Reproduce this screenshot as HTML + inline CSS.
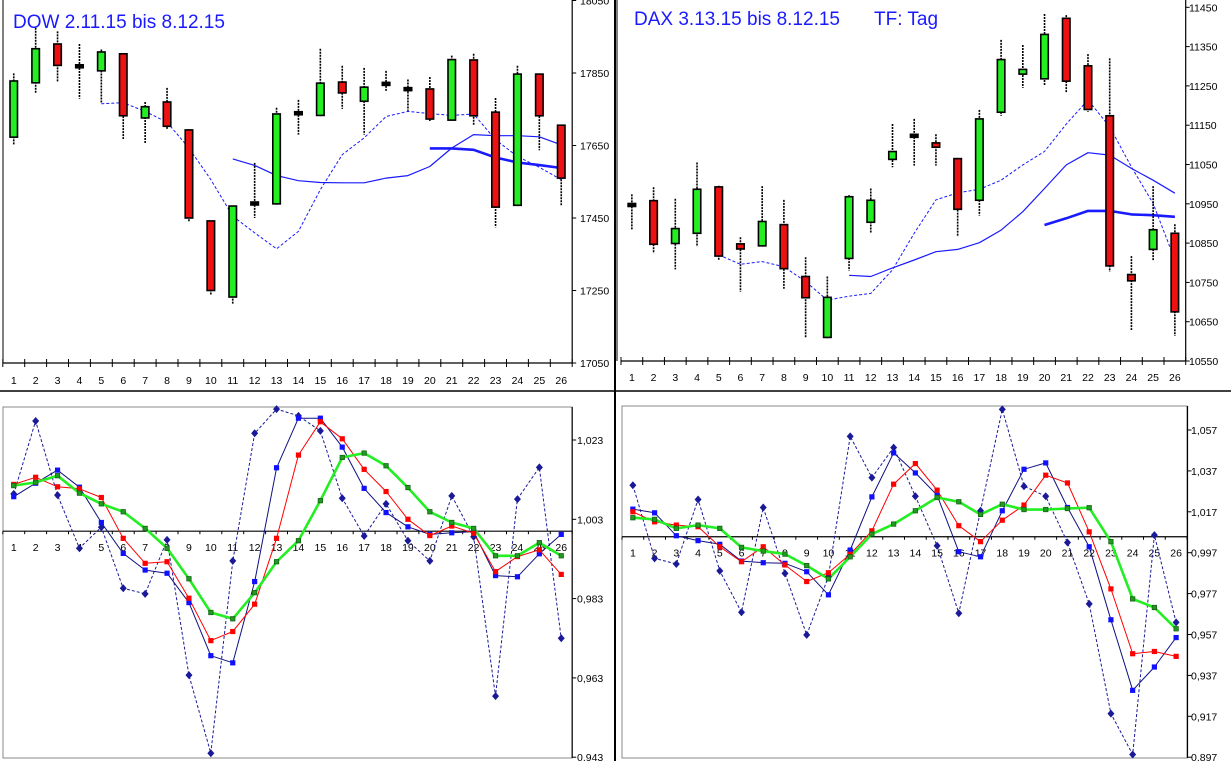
<!DOCTYPE html>
<html><head><meta charset="utf-8"><style>
html,body{margin:0;padding:0;background:#fff;}
svg{display:block;font-family:"Liberation Sans",Arial,sans-serif;}
</style></head><body>
<svg id="root" width="1231" height="761" viewBox="0 0 1231 761" xmlns="http://www.w3.org/2000/svg">
<rect x="0" y="0" width="1231" height="761" fill="#fff"/>
<line x1="3" y1="0" x2="3" y2="363" stroke="#000" stroke-width="1"/>
<line x1="617" y1="0" x2="617" y2="361" stroke="#000" stroke-width="1"/>
<line x1="615" y1="0" x2="615" y2="761" stroke="#000" stroke-width="2"/>
<line x1="0" y1="391" x2="1231" y2="391" stroke="#000" stroke-width="1.5"/>
<rect x="3" y="407" width="569" height="351" fill="none" stroke="#888" stroke-width="1"/>
<rect x="622" y="406" width="565" height="352" fill="none" stroke="#888" stroke-width="1"/>
<text x="13" y="28" font-size="19" fill="#1a1aff">DOW 2.11.15 bis 8.12.15</text>
<text x="634" y="25" font-size="19" fill="#1a1aff">DAX 3.13.15 bis 8.12.15</text>
<text x="874" y="25" font-size="19" fill="#1a1aff">TF: Tag</text>
<g id="g"></g>
</svg>
<script>
const cats = [1,2,3,4,5,6,7,8,9,10,11,12,13,14,15,16,17,18,19,20,21,22,23,24,25,26];
// DOW candles
const dowOpen  = [17673,17823,17930,17869,17856,17903,17726,17770,17693,17442,17232,17490,17489,17739,17733,17825,17772,17822,17807,17806,17720,17886,17742,17485,17847,17706];
const dowHigh  = [17849,17975,17965,17930,17915,17905,17770,17809,17695,17443,17484,17602,17754,17776,17917,17870,17864,17856,17832,17839,17898,17903,17781,17870,17847,17706];
const dowLow   = [17653,17793,17827,17779,17766,17668,17657,17696,17441,17238,17211,17450,17487,17680,17731,17751,17680,17800,17746,17717,17717,17705,17424,17482,17637,17485];
const dowClose = [17828,17917,17871,17868,17908,17732,17757,17703,17450,17250,17483,17490,17737,17739,17822,17795,17811,17818,17804,17723,17887,17732,17480,17847,17732,17560];
const dowMaFast = [null,null,null,null,17765,17768,17744,17714,17643,17556,17455,17409,17365,17413,17528,17625,17671,17730,17744,17738,17733,17737,17666,17620,17590,17556];
const dowMaSlow = [null,null,null,null,null,null,null,null,null,null,17613,17595,17567,17553,17548,17547,17547,17560,17567,17592,17643,17680,17677,17677,17674,17652];
const dowMaLong = [null,null,null,null,null,null,null,null,null,null,null,null,null,null,null,null,null,null,null,17642,17642,17638,17617,17603,17596,17588];
const dowTicks = [17050,17250,17450,17650,17850,18050];
// DAX candles
const daxOpen  = [10947,10958,10849,10875,10993,10848,10843,10897,10765,10610,10811,10903,11063,11123,11105,11065,10959,11183,11280,11268,11422,11301,11174,10770,10834,10875];
const daxHigh  = [10974,10992,10963,11055,10996,10865,10995,10960,10814,10765,10972,10989,11153,11166,11127,11065,11189,11367,11354,11433,11430,11331,11320,10817,10995,10898];
const daxLow   = [10883,10824,10783,10841,10807,10726,10841,10734,10608,10608,10780,10876,11043,11047,11047,10866,10920,11174,11245,11250,11233,11184,10777,10629,10805,10614];
const daxClose = [10947,10847,10887,10987,10817,10835,10905,10785,10711,10712,10968,10959,11083,11123,11094,10936,11166,11317,11292,11381,11262,11190,10792,10754,10884,10675];
const daxMaFast = [null,null,null,null,10820,10796,10803,10790,10752,10705,10715,10722,10782,10875,10960,10978,10987,11010,11049,11083,11153,11214,11146,11044,10951,10807];
const daxMaSlow = [null,null,null,null,null,null,null,null,null,null,10768,10765,10787,10807,10828,10834,10851,10883,10930,10989,11049,11080,11074,11040,11010,10977];
const daxMaLong = [null,null,null,null,null,null,null,null,null,null,null,null,null,null,null,null,null,null,null,10896,10913,10932,10932,10923,10921,10917];
const daxTicks = [10550,10650,10750,10850,10950,11050,11150,11250,11350,11450];
// DOW ratio lines
const blDaily = [1.0094,1.0278,1.0091,0.9957,1.0010,0.9856,0.9842,0.9978,0.9637,0.9440,0.9925,1.0247,1.0308,1.0291,1.0253,1.0083,0.9988,1.0069,0.9976,0.9925,1.0089,0.9986,0.9584,1.0081,1.0161,0.9730];
const blFast  = [1.0087,1.0121,1.0154,1.0111,1.0022,0.9944,0.9902,0.9894,0.9820,0.9686,0.9668,0.9873,1.0160,1.0285,1.0285,1.0212,1.0108,1.0047,1.0011,0.9992,0.9996,0.9999,0.9888,0.9885,0.9943,0.9992];
const blMid   = [1.0118,1.0136,1.0112,1.0107,1.0085,0.9982,0.9919,0.9923,0.9831,0.9724,0.9747,0.9816,0.9982,1.0192,1.0276,1.0233,1.0156,1.0100,1.0030,0.9989,1.0013,0.9995,0.9898,0.9936,0.9953,0.9891];
const blSlow  = [1.0115,1.0123,1.0140,1.0096,1.0069,1.0049,1.0007,0.9957,0.9880,0.9795,0.9779,0.9845,0.9923,0.9976,1.0077,1.0186,1.0197,1.0165,1.0110,1.0049,1.0022,1.0007,0.9938,0.9938,0.9971,0.9938];
const blTicks = [0.943,0.963,0.983,1.003,1.023];
const blCross = 1.0;
// DAX ratio lines
const brDaily = [1.0300,0.9942,0.9915,1.0230,0.9881,0.9679,1.0191,0.9869,0.9568,0.9853,1.0539,1.0337,1.0484,1.0246,1.0004,0.9674,1.0175,1.0671,1.0295,1.0246,1.0020,0.9720,0.9183,0.8983,1.0056,0.9629];
const brFast  = [1.0183,1.0165,1.0053,1.0029,1.0011,0.9929,0.9921,0.9918,0.9877,0.9764,0.9983,1.0243,1.0458,1.0360,1.0251,0.9975,0.9950,1.0175,1.0378,1.0409,1.0191,0.9999,0.9642,0.9297,0.9411,0.9555];
const brMid   = [1.0170,1.0121,1.0105,1.0097,0.9999,0.9926,0.9999,0.9910,0.9829,0.9872,0.9962,1.0077,1.0305,1.0406,1.0276,1.0102,1.0024,1.0129,1.0203,1.0349,1.0311,1.0072,0.9793,0.9476,0.9487,0.9463];
const brSlow  = [1.0141,1.0133,1.0089,1.0105,1.0089,0.9996,0.9978,0.9963,0.9907,0.9842,0.9950,1.0061,1.0110,1.0175,1.0240,1.0219,1.0157,1.0207,1.0181,1.0181,1.0186,1.0190,1.0024,0.9744,0.9702,0.9598];
const brTicks = [0.897,0.917,0.937,0.957,0.977,0.997,1.017,1.037,1.057];
const brCross = 1.0048;

const NS = "http://www.w3.org/2000/svg";
const G = document.getElementById('g');
function mk(tag, attrs, parent){
  const e = document.createElementNS(NS, tag);
  for (const k in attrs) e.setAttribute(k, attrs[k]);
  (parent||G).appendChild(e);
  return e;
}
function xScale(left, step){ return i => left + (i - 0.5) * step; }
function yScale(v0, y0, ppu){ return v => y0 - (v - v0) * ppu; }
function fmt(v){ return v.toFixed(3).replace('.', ','); }

function candles(prefix, left, step, ys, op, hi, lo, cl, bw){
  const x = xScale(left, step);
  cats.forEach((c, k) => {
    const cx = x(c);
    const w = mk('line', {x1:cx, x2:cx, y1:ys(hi[k]), y2:ys(lo[k]), stroke:'#000', 'stroke-width':1.6, 'stroke-dasharray':'2 1'});
    
    
    const top = ys(Math.max(op[k], cl[k])), bot = ys(Math.min(op[k], cl[k]));
    let fill = cl[k] > op[k] ? '#22ee22' : '#ee1111';
    let h = bot - top;
    if (h < 3) { h = 3; fill = '#000'; }
    const b = mk('rect', {x:cx - bw/2, y:(top+bot)/2 - h/2 > top ? top : (top+bot)/2 - h/2, width:bw, height:h, fill:fill, stroke:'#000', 'stroke-width':1.6});
    
    
  });
}
function line(name, left, step, ys, vals, color, width, dash){
  const x = xScale(left, step);
  let d = '';
  cats.forEach((c, k) => { if (vals[k] == null) return; d += (d ? 'L' : 'M') + x(c).toFixed(1) + ' ' + ys(vals[k]).toFixed(1); });
  const p = mk('path', {d:d, fill:'none', stroke:color, 'stroke-width':width, 'stroke-dasharray':dash||'none', 'stroke-linejoin':'round'});
  
  
}
function markers(name, left, step, ys, vals, kind, fill, stroke){
  const x = xScale(left, step);
  cats.forEach((c, k) => {
    const cx = x(c), cy = ys(vals[k]);
    let m;
    if (kind === 'diamond') m = mk('path', {d:`M${cx} ${cy-4}L${cx+3.5} ${cy}L${cx} ${cy+4}L${cx-3.5} ${cy}Z`, fill:fill});
    else m = mk('rect', {x:cx-2.2, y:cy-2.2, width:4.4, height:4.4, fill:fill, stroke:stroke, 'stroke-width':0.8});
    
    
  });
}
function xAxis(prefix, left, step, yAxis, labelY, tickDown, tickUp){
  const x = xScale(left, step);
  const a = mk('line', {x1:left, x2:left + 26*step, y1:yAxis, y2:yAxis, stroke:'#000', 'stroke-width':1.2});
  
  
  for (let i = 0; i <= 26; i++) {
    const t = mk('line', {x1:left + i*step, x2:left + i*step, y1:yAxis - tickUp, y2:yAxis + tickDown, stroke:'#000', 'stroke-width':1});
    
    
  }
  cats.forEach(c => {
    const l = mk('text', {x:x(c), y:labelY, 'font-size':10.5, 'text-anchor':'middle', fill:'#000'});
    l.textContent = c;
    
    
  });
}
function yAxis(prefix, xa, top, bottom, ys, ticks, labelX, formatter){
  const a = mk('line', {x1:xa, x2:xa, y1:top, y2:bottom, stroke:'#000', 'stroke-width':1.2});
  
  
  ticks.forEach(v => {
    const t = mk('line', {x1:xa, x2:xa + 4, y1:ys(v), y2:ys(v), stroke:'#000', 'stroke-width':1});
    
    
    const l = mk('text', {x:labelX, y:ys(v) + 4, 'font-size':10.5, fill:'#000'});
    l.textContent = formatter(v);
    
    
  });
}

// DOW panel
const dowY = yScale(17050, 363, 0.3625);
xAxis('dow', 2.8, 21.9, 363, 384, 4, 4);
yAxis('dow', 572.2, 0, 363, dowY, dowTicks, 580, v => String(v));
line('dow-ma-fast', 2.8, 21.9, dowY, dowMaFast, '#1a1aff', 1, '3 2');
line('dow-ma-slow', 2.8, 21.9, dowY, dowMaSlow, '#1a1aff', 1.2);
line('dow-ma-long', 2.8, 21.9, dowY, dowMaLong, '#1a1aff', 2.6);
candles('dow', 2.8, 21.9, dowY, dowOpen, dowHigh, dowLow, dowClose, 7.5);

// DAX panel
const daxY = yScale(10550, 361, 0.393);
xAxis('dax', 621, 21.72, 361, 381, 4, 4);
yAxis('dax', 1185.7, 0, 361, daxY, daxTicks, 1189, v => String(v));
line('dax-ma-fast', 621, 21.72, daxY, daxMaFast, '#1a1aff', 1, '3 2');
line('dax-ma-slow', 621, 21.72, daxY, daxMaSlow, '#1a1aff', 1.2);
line('dax-ma-long', 621, 21.72, daxY, daxMaLong, '#1a1aff', 2.6);
candles('dax', 621, 21.72, daxY, daxOpen, daxHigh, daxLow, daxClose, 7.5);

// DOW ratio panel
const blY = yScale(1.003, 519.3, 3965);
yAxis('dow-ratio', 572.2, 407, 758, blY, blTicks, 577, fmt);
xAxis('dow-ratio', 2.8, 21.9, blY(blCross), blY(blCross) + 20, 3, 0);
line('dow-ratio-daily', 2.8, 21.9, blY, blDaily, '#1a1a99', 1, '3 2');
line('dow-ratio-fast', 2.8, 21.9, blY, blFast, '#101080', 1);
line('dow-ratio-mid', 2.8, 21.9, blY, blMid, '#ff0000', 1);
line('dow-ratio-slow', 2.8, 21.9, blY, blSlow, '#22ee22', 2.6);
markers('dow-ratio-daily', 2.8, 21.9, blY, blDaily, 'diamond', '#1a1a99');
markers('dow-ratio-fast', 2.8, 21.9, blY, blFast, 'square', '#1010ff', '#1010ff');
markers('dow-ratio-mid', 2.8, 21.9, blY, blMid, 'square', '#ff0000', '#ff0000');
markers('dow-ratio-slow', 2.8, 21.9, blY, blSlow, 'square', '#229922', '#116611');

// DAX ratio panel
const brY = yScale(0.997, 552.7, 2045);
yAxis('dax-ratio', 1187.5, 406, 758, brY, brTicks, 1191, fmt);
xAxis('dax-ratio', 622, 21.73, brY(brCross), brY(brCross) + 20, 3, 0);
line('dax-ratio-daily', 622, 21.73, brY, brDaily, '#1a1a99', 1, '3 2');
line('dax-ratio-fast', 622, 21.73, brY, brFast, '#101080', 1);
line('dax-ratio-mid', 622, 21.73, brY, brMid, '#ff0000', 1);
line('dax-ratio-slow', 622, 21.73, brY, brSlow, '#22ee22', 2.6);
markers('dax-ratio-daily', 622, 21.73, brY, brDaily, 'diamond', '#1a1a99');
markers('dax-ratio-fast', 622, 21.73, brY, brFast, 'square', '#1010ff', '#1010ff');
markers('dax-ratio-mid', 622, 21.73, brY, brMid, 'square', '#ff0000', '#ff0000');
markers('dax-ratio-slow', 622, 21.73, brY, brSlow, 'square', '#229922', '#116611');
</script>
</body></html>
